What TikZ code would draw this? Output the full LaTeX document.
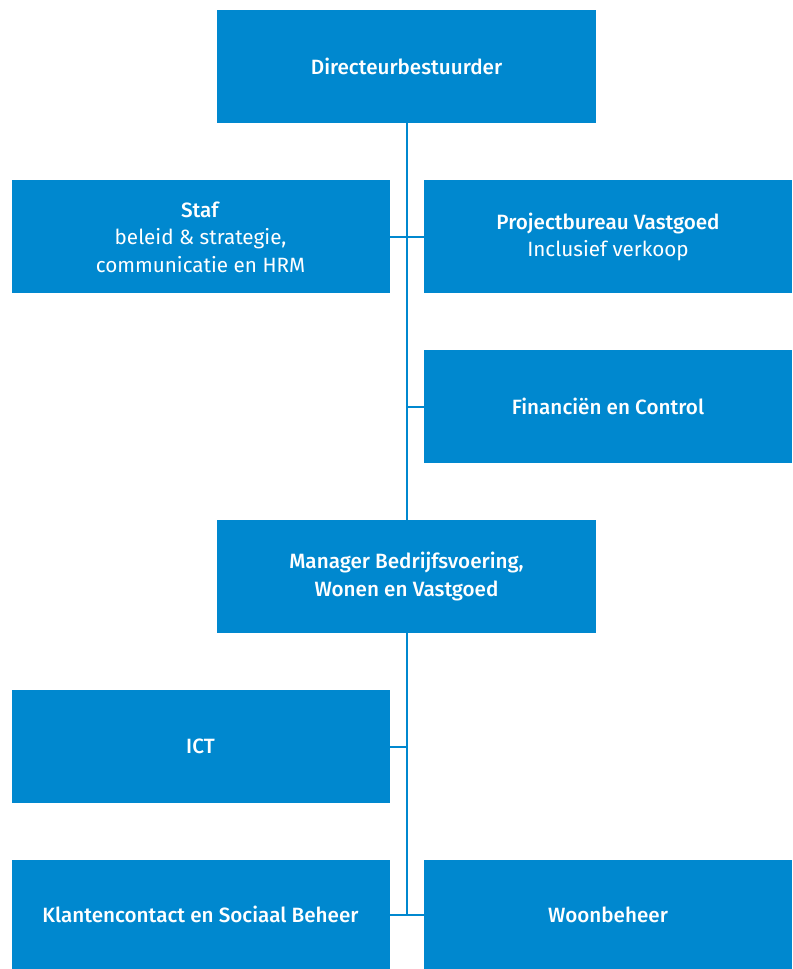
\documentclass[tikz,border=0pt]{standalone}
\usepackage{fontspec}
\setmainfont{Fira Sans}[BoldFont={Fira Sans Medium}]
\definecolor{orgblue}{RGB}{0,136,207}
\tikzset{
  unit/.style={fill=orgblue,text=white,minimum width=284.25pt,minimum height=84.75pt,align=center,inner sep=0pt,font=\fontsize{15.5}{20.5}\selectfont},
  link/.style={draw=orgblue,line width=1.5pt},
}
\begin{document}
\begin{tikzpicture}[x=0.75pt,y=0.75pt,yscale=-1,xscale=1]
\useasboundingbox (0,0) rectangle (792,969);
% top level
\node [unit] (dir) at (406.5,66.5) {\textbf{Directeurbestuurder}};
\node [unit,minimum width=283.5pt] (staf) at (200.5,237) {\textbf{Staf}\\beleid \& strategie,\\communicatie en HRM};
\node [unit,minimum width=276pt] (proj) at (608,237) {\textbf{Projectbureau Vastgoed}\\Inclusief verkoop};
\node [unit,minimum width=276pt] (fin) at (608,406.5) {\textbf{Financiën en Control}};
% second level
\node [unit] (man) at (406.5,576.5) {\textbf{Manager Bedrijfsvoering,}\\\textbf{Wonen en Vastgoed}};
\node [unit,minimum width=283.5pt] (ict) at (200.5,746.5) {\textbf{ICT}};
\node [unit,minimum width=283.5pt,minimum height=81.75pt] (klant) at (200.5,914.5) {\textbf{Klantencontact en Sociaal Beheer}};
\node [unit,minimum width=276pt,minimum height=81.75pt] (woon) at (608,914.5) {\textbf{Woonbeheer}};
% lines
\draw [link] (dir.south) -- (man.north);
\draw [link] (staf.east) -- (proj.west);
\draw [link] (fin.west) -- (fin.west -| dir.south);
\draw [link] (man.south) -- (man.south |- klant.east);
\draw [link] (ict.east) -- (ict.east -| man.south);
\draw [link] (klant.east) -- (woon.west);
\end{tikzpicture}
\end{document}
